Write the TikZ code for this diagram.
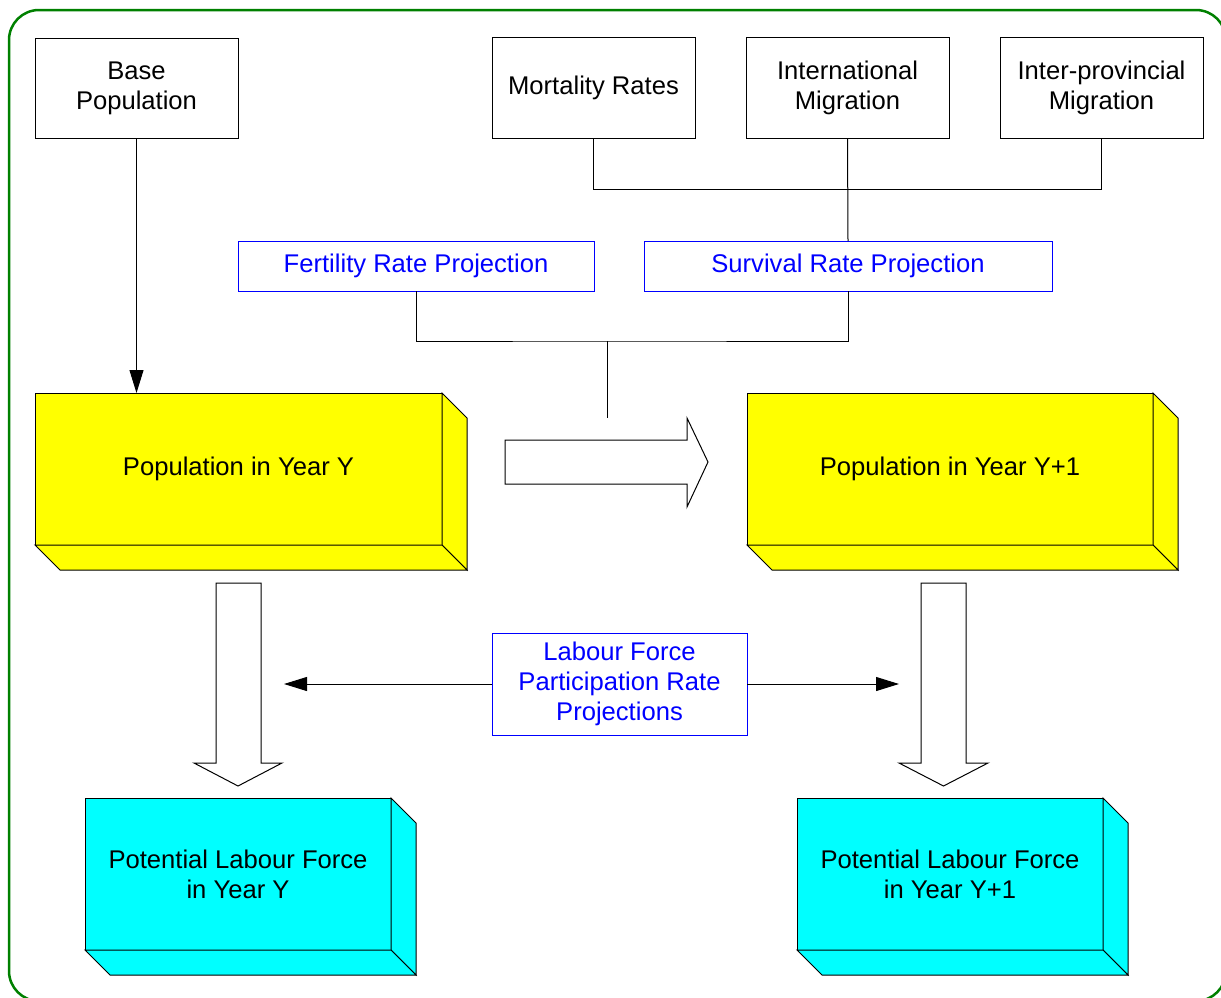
\documentclass[tikz,border=0pt]{standalone}
\usepackage{fontspec}
\setmainfont{Liberation Sans}
\usetikzlibrary{calc,arrows.meta}
\definecolor{framegreen}{RGB}{0,128,0}
\definecolor{txtblue}{RGB}{0,0,255}
\definecolor{boxyellow}{RGB}{255,255,0}
\definecolor{boxcyan}{RGB}{0,255,255}
\tikzset{
  edge/.style={draw=black, line width=1},
  txt/.style={font=\fontsize{25.6}{30}\selectfont, align=center, inner sep=0pt, outer sep=0pt},
  plainbox/.style={txt, edge, fill=white},
  bluebox/.style={txt, draw=txtblue, line width=1, fill=white, text=txtblue},
  slabfront/.style={txt, edge},
  conn/.style={draw=black, line width=1},
  tipconn/.style={conn, -{Triangle[length=23pt,width=14pt]}},
  blockarrow/.style={edge, fill=white, line join=miter},
}
\newcommand{\drawslab}[2]{%
  \filldraw[fill=#2, edge] (#1.north east) -- ($(#1.north east)+(25,25)$) -- ($(#1.south east)+(25,25)$) -- (#1.south east) -- cycle;
  \filldraw[fill=#2, edge] (#1.south west) -- (#1.south east) -- ($(#1.south east)+(25,25)$) -- ($(#1.south west)+(25,25)$) -- cycle;
}
\begin{document}
\begin{tikzpicture}[x=1pt, y=-1pt]
\useasboundingbox (0,0) rectangle (1221,997);
% frame
\draw[framegreen, line width=2.5, rounded corners=30] (9,10) rectangle (1226,1001);

% top boxes
\node[plainbox, minimum width=203, minimum height=100] (base) at (136.5,88) {Base\\Population};
\node[plainbox, minimum width=203, minimum height=101] (mort) at (593.5,87.5) {Mortality Rates};
\node[plainbox, minimum width=203, minimum height=101] (intl) at (847.5,87.5) {International\\Migration};
\node[plainbox, minimum width=203, minimum height=101] (ipm) at (1101.5,87.5) {Inter-provincial\\Migration};

% projection boxes
\node[bluebox, minimum width=356, minimum height=50] (fert) at (416,266) {Fertility Rate Projection};
\node[bluebox, minimum width=408, minimum height=50] (surv) at (848,266) {Survival Rate Projection};
\node[bluebox, minimum width=255, minimum height=102] (lab) at (619.5,684) {Labour Force\\Participation Rate\\Projections};

% slabs
\node[slabfront, fill=boxyellow, minimum width=407, minimum height=152] (popY) at (238.5,469) {Population in Year Y};
\drawslab{popY}{boxyellow}
\node[slabfront, fill=boxyellow, minimum width=406, minimum height=152] (popY1) at (950,469) {Population in Year Y+1};
\drawslab{popY1}{boxyellow}
\node[slabfront, fill=boxcyan, minimum width=306, minimum height=152] (plfY) at (238,874) {Potential Labour Force\\in Year Y};
\drawslab{plfY}{boxcyan}
\node[slabfront, fill=boxcyan, minimum width=306, minimum height=152] (plfY1) at (950,874) {Potential Labour Force\\in Year Y+1};
\drawslab{plfY1}{boxcyan}

% connectors top
\coordinate (j1) at (848,189);
\draw[conn] (mort.south) -- (mort.south |- j1) -- (ipm.south |- j1) -- (ipm.south);
\draw[conn] (intl.south) -- (surv.north);
\coordinate (j2) at (607,341);
\coordinate (j2end) at (607,418);
\draw[conn] (fert.south) |- (j2) -| (surv.south);
\draw[conn] (j2) -- (j2end);

% base to population
\draw[tipconn] (base.south) -- (base.south |- popY.north);

% labour arrows
\coordinate (laL) at (284,684);
\coordinate (laR) at (899,684);
\draw[tipconn] (lab.west) -- (laL);
\draw[tipconn] (lab.east) -- (laR);

% block arrows
\draw[blockarrow] (505,440) -- (687,440) -- (687,418) -- (708,462) -- (687,507) -- (687,484) -- (505,484) -- cycle;
\draw[blockarrow] (216,583) -- (261,583) -- (261,763) -- (282,763) -- (238,786) -- (194,763) -- (216,763) -- cycle;
\draw[blockarrow] (921,583) -- (966,583) -- (966,763) -- (988,763) -- (943.5,786) -- (899,763) -- (921,763) -- cycle;
\end{tikzpicture}
\end{document}
